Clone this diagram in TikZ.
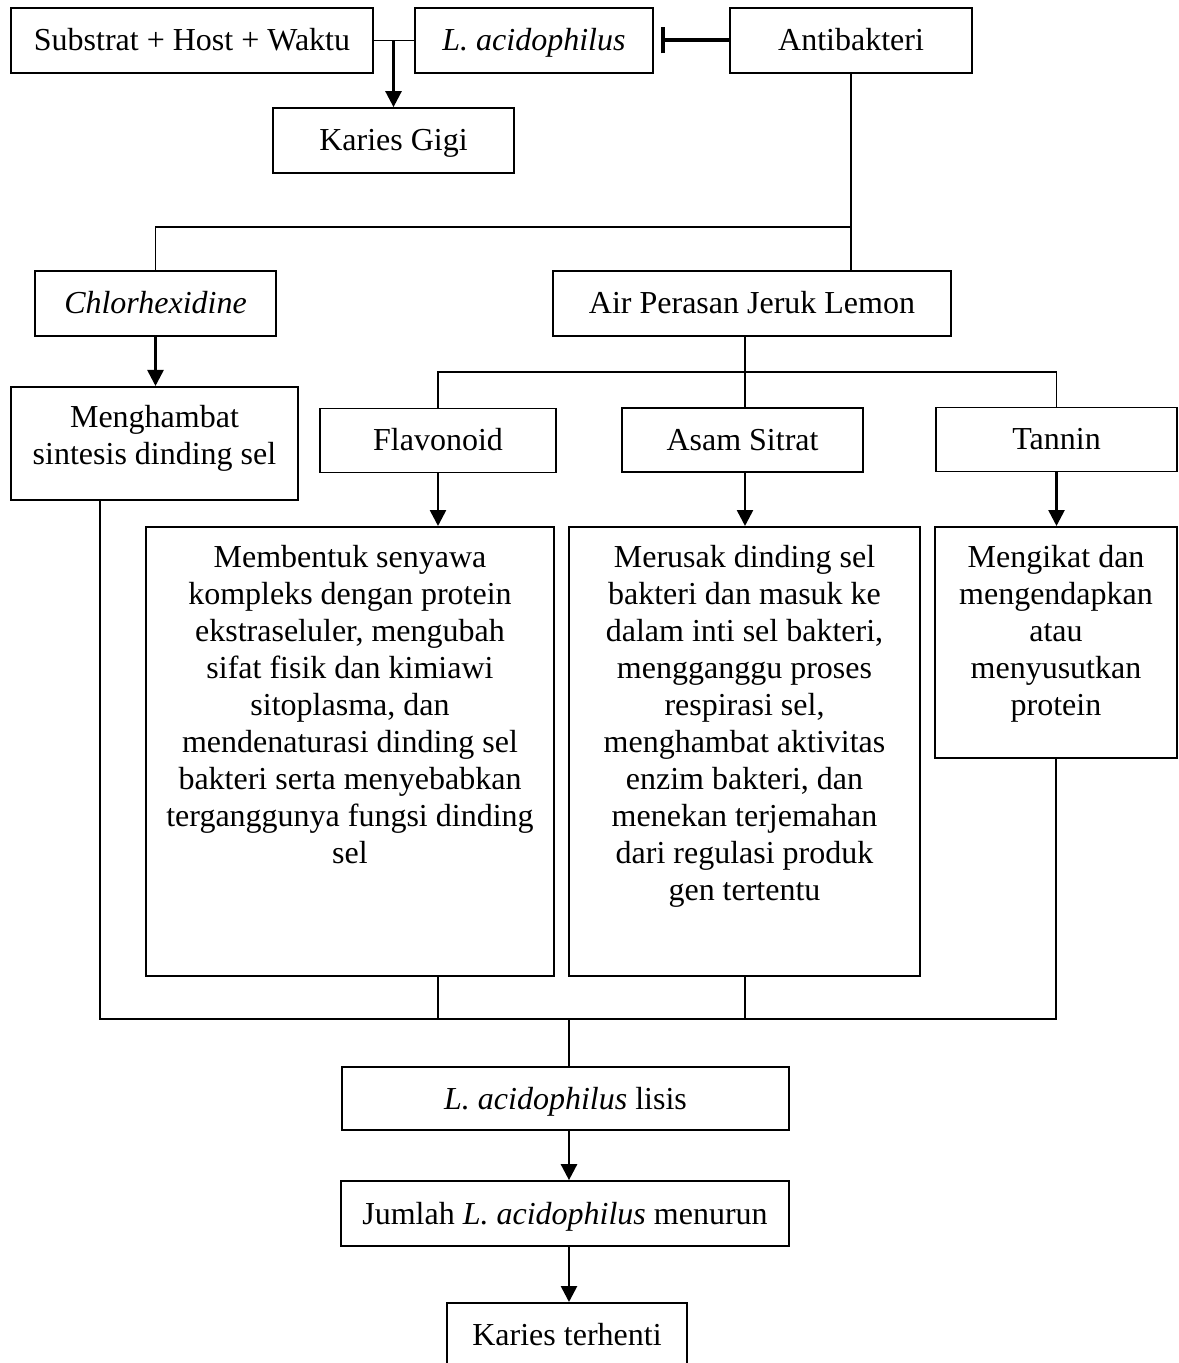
\documentclass[tikz,border=0pt]{standalone}
\usepackage{fontspec}
\setmainfont{Liberation Serif}
\usetikzlibrary{arrows.meta,positioning}

\newcommand{\tekskotak}[3]{\parbox[c][#2][t]{#1}{\centering\vspace*{9pt}#3}}

\tikzset{
    kotak/.style={draw, line width=0.85pt, inner sep=0pt, minimum height=32.5pt, text height=12pt, text depth=1.5pt},
    isi/.style={draw, line width=0.85pt, inner sep=0pt, anchor=north},
    garis/.style={line width=0.7pt},
    panah/.style={line width=1.3pt, -{Triangle[width=8pt,length=8pt]}},
    hambat/.style={line width=2pt, -{Bar[width=13pt]}},
}

\begin{document}
\begin{tikzpicture}[x=0.5pt, y=-0.5pt, font=\fontsize{16}{18.5}\selectfont]
                \useasboundingbox (0,0) rectangle (1178,1363);

                % baris atas
                \node [kotak, minimum width=181pt] (subs) at (192,40.5) {Substrat + Host + Waktu};
                \node [kotak, minimum width=119pt] (lacid) at (534,40.5) {\textit{L. acidophilus}};
                \node [kotak, minimum width=121pt] (anti) at (851,40.5) {Antibakteri};
                \node [kotak, minimum width=120.5pt] (gigi) at (393.5,140.5) {Karies Gigi};

                % bahan antibakteri
                \node [kotak, minimum width=120.5pt] (chx) at (155.5,303.5) {\textit{Chlorhexidine}};
                \node [kotak, minimum width=199pt] (air) at (752,303.5) {Air Perasan Jeruk Lemon};
                \node [isi] (mhb) at (154.5,386) {\tekskotak{143.5pt}{56.5pt}{Menghambat\\sintesis dinding sel}};

                % kandungan jeruk lemon
                \node [kotak, minimum width=118pt, minimum height=32pt] (flav) at (438,440.5) {Flavonoid};
                \node [kotak, minimum width=120.5pt, minimum height=32pt] (asam) at (742.5,440) {Asam Sitrat};
                \node [kotak, minimum width=120.5pt, minimum height=32pt] (tan) at (1056.5,439.5) {Tannin};

                \node [isi] (flavdesc) at (350,526) {\tekskotak{204pt}{224.5pt}{Membentuk senyawa\\kompleks dengan protein\\ekstraseluler, mengubah\\sifat fisik dan kimiawi\\sitoplasma, dan\\mendenaturasi dinding sel\\bakteri serta menyebabkan\\terganggunya fungsi dinding\\sel}};
                \node [isi] (asamdesc) at (744.5,526) {\tekskotak{175.5pt}{224.5pt}{Merusak dinding sel\\bakteri dan masuk ke\\dalam inti sel bakteri,\\mengganggu proses\\respirasi sel,\\menghambat aktivitas\\enzim bakteri, dan\\menekan terjemahan\\dari regulasi produk\\gen tertentu}};
                \node [isi] (tandesc) at (1056,526) {\tekskotak{121pt}{115.5pt}{Mengikat dan\\mengendapkan\\atau\\menyusutkan\\protein}};

                % hasil
                \node [kotak, minimum width=223.5pt, minimum height=31.5pt] (lisis) at (565.5,1098.5) {\textit{L. acidophilus} lisis};
                \node [kotak, minimum width=224pt] (jumlah) at (565,1213.5) {Jumlah \textit{L. acidophilus} menurun};
                \node [kotak, minimum width=120pt, anchor=north] (henti) at (567,1302) {Karies terhenti};

                \coordinate (cabang1) at (851,227);
                \coordinate (cabang2) at (745,372);
                \coordinate (kiri) at (100,1019);
                \coordinate (tengah) at (569,1019);

                % penghubung
                \draw [garis] (subs.east) -- (lacid.west);
                \draw [panah] (gigi |- subs.east) -- (gigi.north);
                \draw [hambat] (anti.west) -- ([xshift=3.5pt]lacid.east);

                \draw [garis] (anti.south) -- (anti.south |- air.north);
                \draw [garis] (chx.north) |- (cabang1);
                \draw [panah] (chx.south) -- (chx.south |- mhb.north);

                \draw [garis] (cabang2 |- air.south) -- (cabang2 |- asam.north);
                \draw [garis] (flav.north) |- (cabang2) -| (tan.north);

                \draw [panah] (flav.south) -- (flav.south |- flavdesc.north);
                \draw [panah] (cabang2 |- asam.south) -- (cabang2 |- asamdesc.north);
                \draw [panah] (tan.south) -- (tan.south |- tandesc.north);

                \draw [garis] (kiri |- mhb.south) -- (kiri) -| (tandesc.south);
                \draw [garis] (flav.south |- flavdesc.south) -- (flav.south |- kiri);
                \draw [garis] (cabang2 |- asamdesc.south) -- (cabang2 |- kiri);
                \draw [garis] (tengah) -- (tengah |- lisis.north);

                \draw [panah] (tengah |- lisis.south) -- (tengah |- jumlah.north);
                \draw [panah] (tengah |- jumlah.south) -- (tengah |- henti.north);
\end{tikzpicture}
\end{document}
